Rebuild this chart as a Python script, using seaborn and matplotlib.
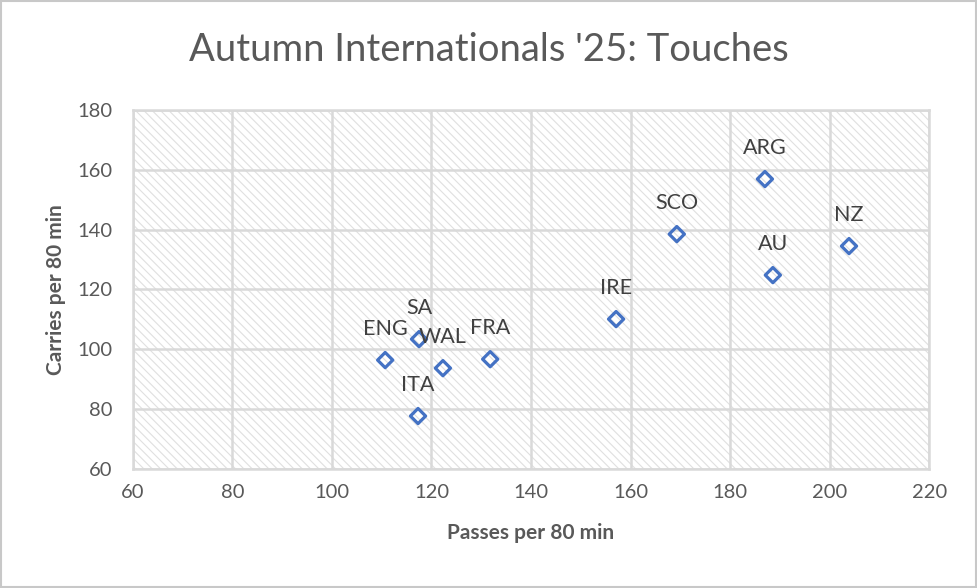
import matplotlib
matplotlib.use("Agg")
import matplotlib.pyplot as plt
import seaborn as sns
import pandas as pd
from matplotlib.patches import Rectangle

teams = ["ENG", "SA", "WAL", "ITA", "FRA", "IRE", "SCO", "ARG", "AU", "NZ"]
passes = [110.7, 117.5, 122.3, 117.3, 131.8, 157.1, 169.3, 187.0, 188.6, 203.9]
carries = [96.4, 103.4, 93.7, 77.7, 96.7, 110.1, 138.5, 156.9, 124.8, 134.5]
xticks = [60, 80, 100, 120, 140, 160, 180, 200, 220]
yticks = [60, 80, 100, 120, 140, 160, 180]

df = pd.DataFrame({"team": teams, "passes": passes, "carries": carries})

sns.set_theme(style="white")
plt.rcParams["font.family"] = ["Lato", "DejaVu Sans"]
plt.rcParams["hatch.color"] = "#e0e0e0"
plt.rcParams["hatch.linewidth"] = 0.8

fig = plt.figure(figsize=(9.77, 5.88), dpi=100)
ax = fig.add_axes([0.136, 0.2024, 0.815, 0.6106])

# hatched background
bg = Rectangle((0, 0), 1, 1, transform=ax.transAxes, facecolor="white",
               edgecolor="#e0e0e0", hatch="\\\\\\\\", linewidth=0, zorder=0)
ax.add_patch(bg)

ax.set_xlim(xticks[0], xticks[-1])
ax.set_ylim(yticks[0], yticks[-1])
ax.set_xticks(xticks)
ax.set_yticks(yticks)
ax.grid(True, color="#d9d9d9", linewidth=1.8, zorder=1)
ax.set_axisbelow(True)

sns.scatterplot(data=df, x="passes", y="carries", marker="D", s=60,
                color="#4472C4", edgecolor="#4472C4", linewidth=2.3, ax=ax, zorder=3)
for c in ax.collections:
    c.set_facecolor("none")
    c.set_edgecolor("#4472C4")

for t, x, y in zip(teams, passes, carries):
    ax.annotate(t, (x, y), xytext=(0, 31), textcoords="offset pixels",
                ha="center", va="center", fontsize=15.5, color="#404040", zorder=4)

for s in ax.spines.values():
    s.set_color("#d9d9d9")
    s.set_linewidth(1.8)

ax.tick_params(axis="both", labelsize=14.5, labelcolor="#595959", length=0)
ax.tick_params(axis="x", pad=11)
ax.tick_params(axis="y", pad=15)
ax.set_xlabel("Passes per 80 min", fontsize=15, fontweight="bold", color="#595959", labelpad=16)
ax.set_ylabel("Carries per 80 min", fontsize=15, fontweight="bold", color="#595959", labelpad=8)

fig.text(0.5, 0.915, "Autumn Internationals '25: Touches", ha="center", va="center",
         fontsize=27.5, color="#595959")

fig.patches.append(Rectangle((0.001, 0.001), 0.998, 0.997, transform=fig.transFigure,
                             fill=False, edgecolor="#c8c8c8", linewidth=1.5))

fig.savefig("out.png", dpi=100)
